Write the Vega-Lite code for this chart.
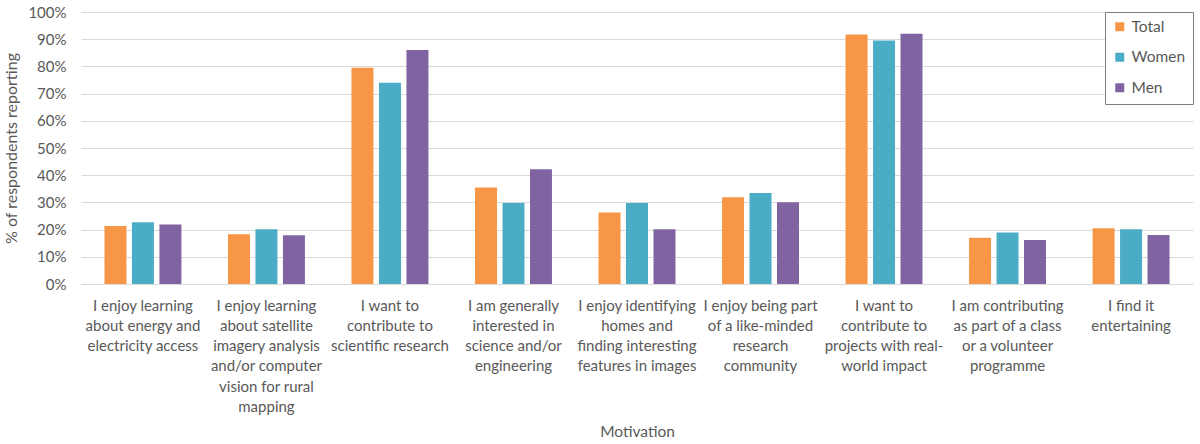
{
  "$schema": "https://vega.github.io/schema/vega-lite/v6.json",
  "autosize": {"type": "none"},
  "width": 1112,
  "height": 272,
  "padding": {"left": 81, "top": 12, "right": 7, "bottom": 160},
  "background": "white",
  "config": {
    "view": {"stroke": null},
    "font": "Lato",
    "axis": {"labelColor": "#595959", "titleColor": "#595959", "labelFont": "Lato", "titleFont": "Lato", "titleFontWeight": "normal"}
  },
  "data": {
    "values": [
      {"motivation": "I enjoy learning\nabout energy and\nelectricity access", "group": "Total", "pct": 21.3},
      {"motivation": "I enjoy learning\nabout energy and\nelectricity access", "group": "Women", "pct": 22.7},
      {"motivation": "I enjoy learning\nabout energy and\nelectricity access", "group": "Men", "pct": 21.9},
      {"motivation": "I enjoy learning\nabout satellite\nimagery analysis\nand/or computer\nvision for rural\nmapping", "group": "Total", "pct": 18.3},
      {"motivation": "I enjoy learning\nabout satellite\nimagery analysis\nand/or computer\nvision for rural\nmapping", "group": "Women", "pct": 20.1},
      {"motivation": "I enjoy learning\nabout satellite\nimagery analysis\nand/or computer\nvision for rural\nmapping", "group": "Men", "pct": 17.9},
      {"motivation": "I want to\ncontribute to\nscientific research", "group": "Total", "pct": 79.5},
      {"motivation": "I want to\ncontribute to\nscientific research", "group": "Women", "pct": 74.0},
      {"motivation": "I want to\ncontribute to\nscientific research", "group": "Men", "pct": 86.0},
      {"motivation": "I am generally\ninterested in\nscience and/or\nengineering", "group": "Total", "pct": 35.5},
      {"motivation": "I am generally\ninterested in\nscience and/or\nengineering", "group": "Women", "pct": 29.8},
      {"motivation": "I am generally\ninterested in\nscience and/or\nengineering", "group": "Men", "pct": 42.2},
      {"motivation": "I enjoy identifying\nhomes and\nfinding interesting\nfeatures in images", "group": "Total", "pct": 26.3},
      {"motivation": "I enjoy identifying\nhomes and\nfinding interesting\nfeatures in images", "group": "Women", "pct": 29.8},
      {"motivation": "I enjoy identifying\nhomes and\nfinding interesting\nfeatures in images", "group": "Men", "pct": 20.1},
      {"motivation": "I enjoy being part\nof a like-minded\nresearch\ncommunity", "group": "Total", "pct": 31.9},
      {"motivation": "I enjoy being part\nof a like-minded\nresearch\ncommunity", "group": "Women", "pct": 33.5},
      {"motivation": "I enjoy being part\nof a like-minded\nresearch\ncommunity", "group": "Men", "pct": 30.1},
      {"motivation": "I want to\ncontribute to\nprojects with real-\nworld impact", "group": "Total", "pct": 91.7},
      {"motivation": "I want to\ncontribute to\nprojects with real-\nworld impact", "group": "Women", "pct": 89.5},
      {"motivation": "I want to\ncontribute to\nprojects with real-\nworld impact", "group": "Men", "pct": 92.0},
      {"motivation": "I am contributing\nas part of a class\nor a volunteer\nprogramme", "group": "Total", "pct": 17.0},
      {"motivation": "I am contributing\nas part of a class\nor a volunteer\nprogramme", "group": "Women", "pct": 18.9},
      {"motivation": "I am contributing\nas part of a class\nor a volunteer\nprogramme", "group": "Men", "pct": 16.2},
      {"motivation": "I find it\nentertaining", "group": "Total", "pct": 20.5},
      {"motivation": "I find it\nentertaining", "group": "Women", "pct": 20.1},
      {"motivation": "I find it\nentertaining", "group": "Men", "pct": 18.0}
    ]
  },
  "mark": {"type": "bar"},
  "encoding": {
    "x": {
      "field": "motivation",
      "type": "nominal",
      "sort": null,
      "scale": {"paddingInner": 0.377, "paddingOuter": 0.19},
      "axis": {
        "title": "Motivation",
        "titleFontSize": 15.5,
        "titlePadding": 10,
        "labelAngle": 0,
        "labelFontSize": 15,
        "labelLineHeight": 20.3,
        "labelPadding": 14,
        "labelLimit": 0,
        "labelOverlap": false,
        "labelExpr": "split(datum.label, '\\n')",
        "ticks": false,
        "domain": true,
        "domainColor": "#d9d9d9",
        "domainWidth": 1
      }
    },
    "xOffset": {
      "field": "group",
      "type": "nominal",
      "sort": ["Total", "Women", "Men"],
      "scale": {"paddingInner": 0.2, "paddingOuter": 0}
    },
    "y": {
      "field": "pct",
      "type": "quantitative",
      "scale": {"domain": [0, 100], "nice": false},
      "axis": {
        "title": "% of respondents reporting",
        "titleFontSize": 16,
        "titlePadding": 8,
        "values": [0, 10, 20, 30, 40, 50, 60, 70, 80, 90, 100],
        "labelExpr": "datum.value + '%'",
        "labelFontSize": 15,
        "labelPadding": 15,
        "ticks": false,
        "domain": false,
        "gridColor": "#d9d9d9",
        "gridWidth": 1
      }
    },
    "color": {
      "field": "group",
      "type": "nominal",
      "sort": ["Total", "Women", "Men"],
      "scale": {"domain": ["Total", "Women", "Men"], "range": ["#F79646", "#4BACC6", "#8064A2"]},
      "legend": {
        "title": null,
        "orient": "top-right",
        "offset": 0,
        "padding": 7,
        "rowPadding": 13.5,
        "strokeColor": "#7f7f7f",
        "fillColor": "white",
        "symbolType": "square",
        "symbolSize": 81,
        "symbolStrokeWidth": 0,
        "labelFontSize": 15.5,
        "labelColor": "#595959",
        "labelFont": "Lato"
      }
    }
  }
}
